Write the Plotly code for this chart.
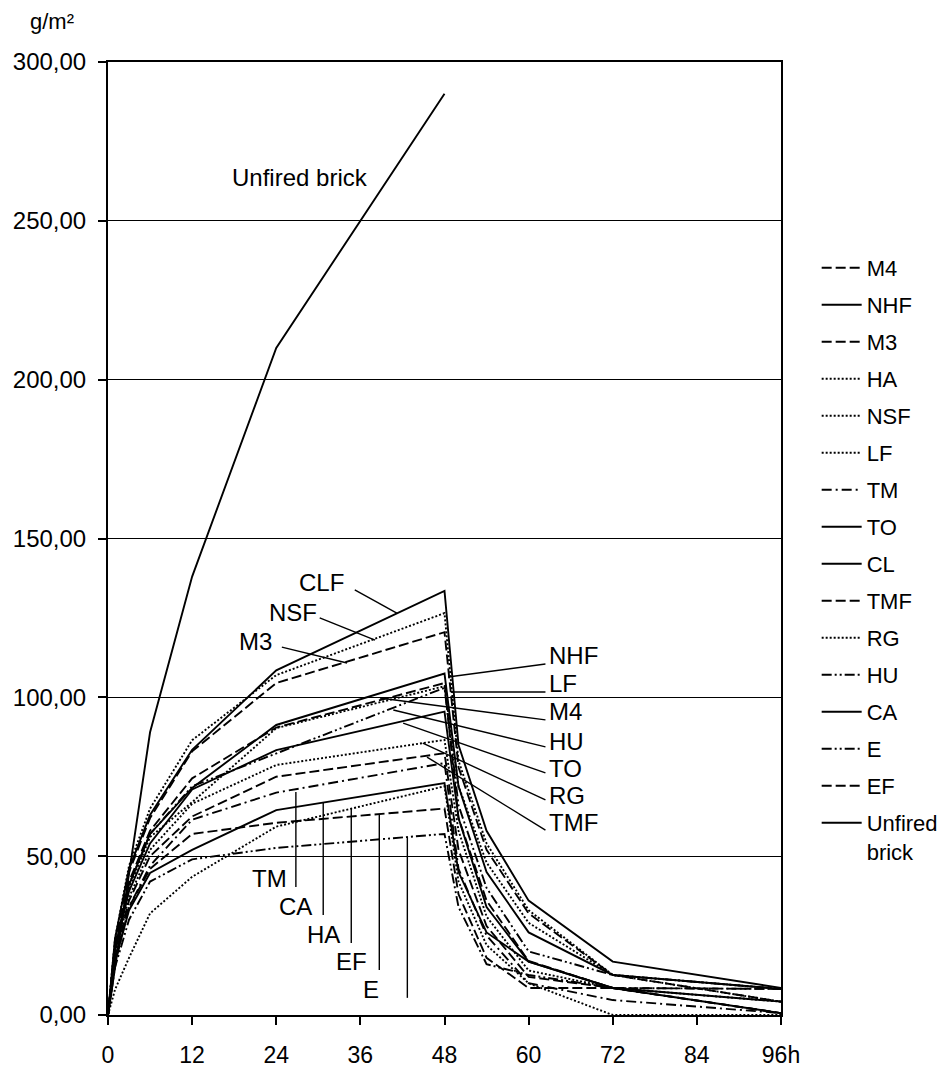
import plotly.graph_objects as go

# ---------------- data ----------------
hours = [0, 1, 3, 6, 12, 24, 48, 50, 54, 60, 72, 96]
unfired_hours = [0, 6, 12, 24, 48]

series_names = ["M4", "NHF", "M3", "HA", "NSF", "LF", "TM", "TO", "CL", "TMF",
                "RG", "HU", "CA", "E", "EF"]

M4 = [0, 22, 42, 58, 74.5, 90.5, 104.5, 62, 36, 17, 8.5, 0.6]
NHF = [0, 21, 41, 57, 71.5, 91.3, 107.5, 72, 45, 26, 12.6, 8.2]
M3 = [0, 23, 45, 62, 83, 104.5, 120.5, 78, 52, 32, 12.6, 4.2]
HA = [0, 8, 18, 32, 43.5, 59.3, 72, 42, 22, 10, 0, 0]
NSF = [0, 24, 47, 65, 86.5, 107, 126.5, 80, 54, 33, 12.6, 8.2]
LF = [0, 20, 40, 56, 67, 90.3, 103.5, 72, 48, 29, 12.6, 4.2]
TM = [0, 16, 34, 47, 61.5, 70, 79.3, 46, 25, 10, 4.7, 0.6]
TO = [0, 20, 39, 54, 71, 83.4, 95.5, 62, 34, 16.8, 8.5, 4.2]
CL = [0, 24, 46, 63, 83.5, 108.5, 133.5, 85, 58, 36, 16.8, 8.5]
TMF = [0, 18, 36, 50, 62.5, 75, 82.4, 52, 28, 12, 8.5, 0.6]
RG = [0, 19, 37, 52, 66.5, 78.7, 86.6, 58, 31, 14, 8.5, 4.2]
HU = [0, 21, 41, 57, 72, 82.4, 103, 66, 40, 20, 12.6, 8.2]
CA = [0, 17, 33, 44.7, 52, 64.5, 73, 45, 26, 16.8, 8.5, 0.6]
E = [0, 15, 30, 42, 49, 52.6, 57, 34, 16, 12.6, 8.5, 8.2]
EF = [0, 17, 34, 46, 57, 60.5, 65, 38, 18, 8.5, 8.5, 8.2]
UNFIRED = [0, 89, 138, 210, 290]

x_tickvals = [0, 12, 24, 36, 48, 60, 72, 84, 96]
x_ticktext = ["0", "12", "24", "36", "48", "60", "72", "84", "96h"]
y_tickvals = [0, 50, 100, 150, 200, 250, 300]

# ---------------- styles ----------------
DASH = "10px,4px"
DOT = "2px,2px"
DASHDOT = "10px,4px,2px,4px"
DASHDOTDOT = "10px,3px,2px,3px,2px,3px"
styles = {
    "M4": DASH, "NHF": "solid", "M3": DASH, "HA": DOT, "NSF": DOT, "LF": DOT,
    "TM": DASHDOT, "TO": "solid", "CL": "solid", "TMF": DASH, "RG": DOT,
    "HU": DASHDOTDOT, "CA": "solid", "E": DASHDOTDOT, "EF": DASH,
}
values = {"M4": M4, "NHF": NHF, "M3": M3, "HA": HA, "NSF": NSF, "LF": LF,
          "TM": TM, "TO": TO, "CL": CL, "TMF": TMF, "RG": RG, "HU": HU,
          "CA": CA, "E": E, "EF": EF}

FONT = "Arial, Liberation Sans, sans-serif"

fig = go.Figure()
for i, name in enumerate(series_names):
    fig.add_trace(go.Scatter(
        x=hours, y=values[name], mode="lines", name=name,
        legendgroup="g%d" % i,
        line=dict(color="black", width=1.9, dash=styles[name]),
    ))
fig.add_trace(go.Scatter(
    x=unfired_hours, y=UNFIRED, mode="lines", name="Unfired<br>brick",
    legendgroup="g99", line=dict(color="black", width=1.9, dash="solid"),
))

# ---------------- labels with leader lines ----------------
labels = [
    # text, text_x, text_y, xanchor, leader (x0, y0, x1, y1)
    ("CLF", 30.5, 136.0, "center", (35.2, 133.8, 41.2, 126.5)),
    ("NSF", 26.4, 126.8, "center", (30.2, 125.0, 38.1, 118.0)),
    ("M3", 21.1, 117.7, "center", (24.8, 115.8, 34.1, 110.8)),
    ("NHF", 62.6, 113.3, "left", (62.4, 110.5, 48.5, 106.4)),
    ("LF", 62.6, 104.5, "left", (62.4, 101.7, 49.0, 101.7)),
    ("M4", 62.6, 95.4, "left", (62.4, 92.9, 38.8, 99.8)),
    ("HU", 62.6, 86.2, "left", (62.4, 84.4, 40.7, 96.0)),
    ("TO", 62.6, 77.7, "left", (62.4, 76.2, 42.1, 91.9)),
    ("RG", 62.6, 69.2, "left", (62.4, 67.7, 44.9, 85.6)),
    ("TMF", 62.6, 60.7, "left", (62.4, 58.2, 45.5, 81.2)),
    ("TM", 23.0, 43.1, "center", (26.8, 70.2, 26.8, 40.3)),
    ("CA", 26.8, 34.0, "center", (30.7, 66.7, 30.7, 31.5)),
    ("HA", 30.8, 25.2, "center", (34.7, 65.1, 34.7, 22.7)),
    ("EF", 34.7, 16.7, "center", (38.7, 63.0, 38.7, 14.2)),
    ("E", 37.5, 7.9, "center", (42.7, 56.0, 42.7, 5.4)),
]
for text, tx, ty, xa, (x0, y0, x1, y1) in labels:
    fig.add_annotation(x=tx, y=ty, xref="x", yref="y", text=text, showarrow=False,
                       xanchor=xa, yanchor="middle",
                       font=dict(family=FONT, size=24, color="black"))
    fig.add_shape(type="line", xref="x", yref="y", x0=x0, y0=y0, x1=x1, y1=y1,
                  line=dict(color="black", width=1.4))

fig.add_annotation(x=27.4, y=263.5, xref="x", yref="y", text="Unfired brick",
                   showarrow=False, xanchor="center", yanchor="middle",
                   font=dict(family=FONT, size=24, color="black"))

fig.add_annotation(x=-0.083, y=1.042, xref="paper", yref="paper", text="g/m²",
                   showarrow=False, xanchor="center", yanchor="middle",
                   font=dict(family=FONT, size=22, color="black"))

# page body adds an 8px margin, so the figure is sized/offset to compensate
fig.update_layout(
    width=939, height=1060,
    margin=dict(l=100, r=166, t=54, b=53, autoexpand=False),
    paper_bgcolor="white", plot_bgcolor="white",
    separators=",.",
    font=dict(family=FONT, color="black"),
    showlegend=True,
    legend=dict(
        x=1.053, xanchor="left", y=0.806, yanchor="top",
        traceorder="grouped", tracegroupgap=5.4, valign="top",
        font=dict(family=FONT, size=22, color="black"),
        itemwidth=40, bgcolor="rgba(0,0,0,0)",
    ),
    xaxis=dict(
        range=[0, 96], tickvals=x_tickvals, ticktext=x_ticktext,
        ticks="outside", ticklen=8, tickwidth=2, tickcolor="black",
        showline=True, linecolor="black", linewidth=2, mirror=True,
        showgrid=False, zeroline=False, ticklabelstandoff=10, automargin=False,
        tickfont=dict(family=FONT, size=23, color="black"),
    ),
    yaxis=dict(
        range=[0, 300], tickvals=y_tickvals, tickformat=".2f",
        ticks="outside", ticklen=8, tickwidth=2, tickcolor="black",
        showline=True, linecolor="black", linewidth=2, mirror=True,
        showgrid=True, gridcolor="black", gridwidth=1, zeroline=False,
        ticklabelstandoff=7, automargin=False,
        tickfont=dict(family=FONT, size=24, color="black"),
    ),
)

fig.write_html("out.html")
